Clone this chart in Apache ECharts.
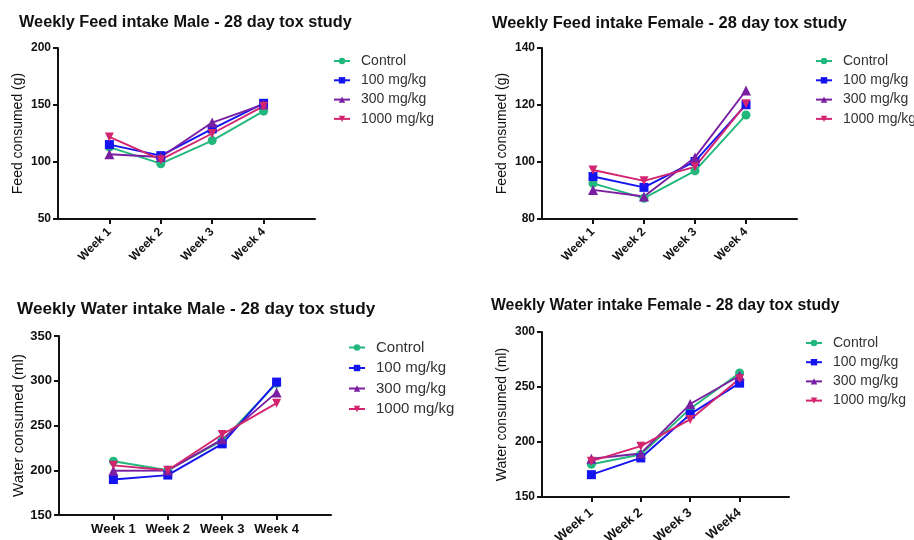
<!DOCTYPE html>
<html>
<head>
<meta charset="utf-8">
<script src="https://cdn.jsdelivr.net/npm/echarts@6/dist/echarts.min.js"></script>
<style>
html,body{margin:0;padding:0;background:#fff;}
#c{width:914px;height:540px;}
</style>
</head>
<body>
<div id="c"></div>
<script>
// ---- data ----
const groups = ['Control', '100 mg/kg', '300 mg/kg', '1000 mg/kg'];
const weeks = ['Week 1', 'Week 2', 'Week 3', 'Week 4'];
const weeksWaterFemale = ['Week 1', 'Week 2', 'Week 3', 'Week4'];

const titles = [
  'Weekly Feed intake Male - 28 day tox study',
  'Weekly Feed intake Female - 28 day tox study',
  'Weekly Water intake Male - 28 day tox study',
  'Weekly Water intake Female - 28 day tox study'
];
const yNames = ['Feed consumed (g)', 'Feed consumed (g)', 'Water consumed (ml)', 'Water consumed (ml)'];

// Feed Male
const feedMaleControl = [113, 98.5, 118.8, 144.6];
const feedMale100 = [115.3, 105.6, 129, 151.5];
const feedMale300 = [106.8, 104.4, 134.6, 150.5];
const feedMale1000 = [122, 102, 125, 149];
// Feed Female
const feedFemaleControl = [92.5, 87.3, 96.9, 116.5];
const feedFemale100 = [94.9, 91.1, 100.2, 120.1];
const feedFemale300 = [90.2, 87.9, 101.6, 125.1];
const feedFemale1000 = [97.2, 93.4, 98.3, 120.4];
// Water Male
const waterMaleControl = [210, 200, 233, 297];
const waterMale100 = [189.6, 194.6, 229.5, 298.5];
const waterMale300 = [199.5, 199.8, 234.5, 287];
const waterMale1000 = [205.5, 200, 240, 275];
// Water Female
const waterFemaleControl = [179.8, 188.6, 230.3, 262.7];
const waterFemale100 = [170.3, 185.5, 225.3, 253.5];
const waterFemale300 = [184.8, 189.6, 234.5, 260.2];
const waterFemale1000 = [182.6, 196.2, 220.5, 257.5];

// y-axis ranges
const yMin = [50, 80, 150, 150];
const yMax = [200, 140, 350, 300];
const yInterval = [50, 20, 50, 50];

const panels = [
  [feedMaleControl, feedMale100, feedMale300, feedMale1000],
  [feedFemaleControl, feedFemale100, feedFemale300, feedFemale1000],
  [waterMaleControl, waterMale100, waterMale300, waterMale1000],
  [waterFemaleControl, waterFemale100, waterFemale300, waterFemale1000]
];
const panelWeeks = [weeks, weeks, weeks, weeksWaterFemale];

// ---- styles ----
const colors = ['#22b77c', '#1414f0', '#7a1fa2', '#d3246f'];
const symbols = ['circle', 'rect', 'triangle', 'path://M0,0 L10,0 L5,9 Z'];
const symbolSizes = [9, 9, 10, 9];
const FONT = 'Liberation Sans, Arial, sans-serif';

const grids = [
  {left: 58, top: 48, width: 257, height: 171},
  {left: 542, top: 48, width: 255, height: 171},
  {left: 59, top: 336, width: 272, height: 179},
  {left: 542, top: 332, width: 247, height: 165}
];
const titlePos = [
  {left: 19, top: 15, size: 16.3},
  {left: 492, top: 15, size: 16.4},
  {left: 17, top: 301, size: 17.2},
  {left: 491, top: 298, size: 15.8}
];
const legendPos = [
  {left: 333, top: 54, gap: 5.3, size: 14},
  {left: 815, top: 54, gap: 5.3, size: 14},
  {left: 348, top: 340, gap: 5.5, size: 15},
  {left: 805, top: 336, gap: 5.2, size: 14}
];
const xLabelRotate = [45, 45, 0, 40];
const xLabelSize = [12, 12, 13, 13];
const xLabelMargin = [11, 11, 8, 14];

const option = {
  backgroundColor: '#fff',
  animation: false,
  color: colors,
  title: titles.map((t, i) => ({
    text: t, left: titlePos[i].left, top: titlePos[i].top, padding: 0,
    textStyle: {fontFamily: FONT, fontWeight: 'bold', fontSize: titlePos[i].size, color: '#111'}
  })),
  legend: legendPos.map((p) => ({
    data: groups, orient: 'vertical', left: p.left, top: p.top,
    itemWidth: 16, itemHeight: 8, itemGap: p.gap,
    textStyle: {fontFamily: FONT, fontSize: p.size, color: '#333', padding: [0, 0, 0, 6]},
    padding: 0
  })),
  grid: grids.map(g => Object.assign({containLabel: false, outerBoundsMode: 'none'}, g)),
  xAxis: grids.map((g, i) => ({
    type: 'value', gridIndex: i, min: 0, max: 5, interval: 1,
    splitLine: {show: false},
    axisLine: {lineStyle: {color: '#111', width: 2}},
    axisTick: {show: true, length: 5, lineStyle: {color: '#111', width: 2}, customValues: [1, 2, 3, 4]},
    axisLabel: {
      customValues: [1, 2, 3, 4],
      formatter: (v) => panelWeeks[i][Math.round(v) - 1] || '',
      rotate: xLabelRotate[i], margin: xLabelMargin[i],
      fontFamily: FONT, fontWeight: 'bold', fontSize: xLabelSize[i], color: '#111'
    }
  })),
  yAxis: grids.map((g, i) => ({
    type: 'value', gridIndex: i, min: yMin[i], max: yMax[i], interval: yInterval[i],
    name: yNames[i], nameLocation: 'middle', nameGap: 33,
    nameTextStyle: {fontFamily: FONT, fontSize: i === 2 ? 15 : 14, color: '#111'},
    splitLine: {show: false},
    axisLine: {show: true, lineStyle: {color: '#111', width: 2}},
    axisTick: {show: true, inside: false, length: 5, lineStyle: {color: '#111', width: 2}},
    axisLabel: {margin: 7, fontFamily: FONT, fontWeight: 'bold', fontSize: i === 2 ? 13 : 12, color: '#111'}
  })),
  series: []
};

panels.forEach((pdata, pi) => {
  pdata.forEach((vals, si) => {
    option.series.push({
      name: groups[si], type: 'line', xAxisIndex: pi, yAxisIndex: pi,
      data: vals.map((v, k) => [k + 1, v]),
      symbol: symbols[si], symbolSize: symbolSizes[si],
      lineStyle: {width: 1.9, color: colors[si]},
      itemStyle: {color: colors[si]}
    });
  });
});

const chart = echarts.init(document.getElementById('c'), null, {renderer: 'canvas'});
chart.setOption(option);
</script>
</body>
</html>
